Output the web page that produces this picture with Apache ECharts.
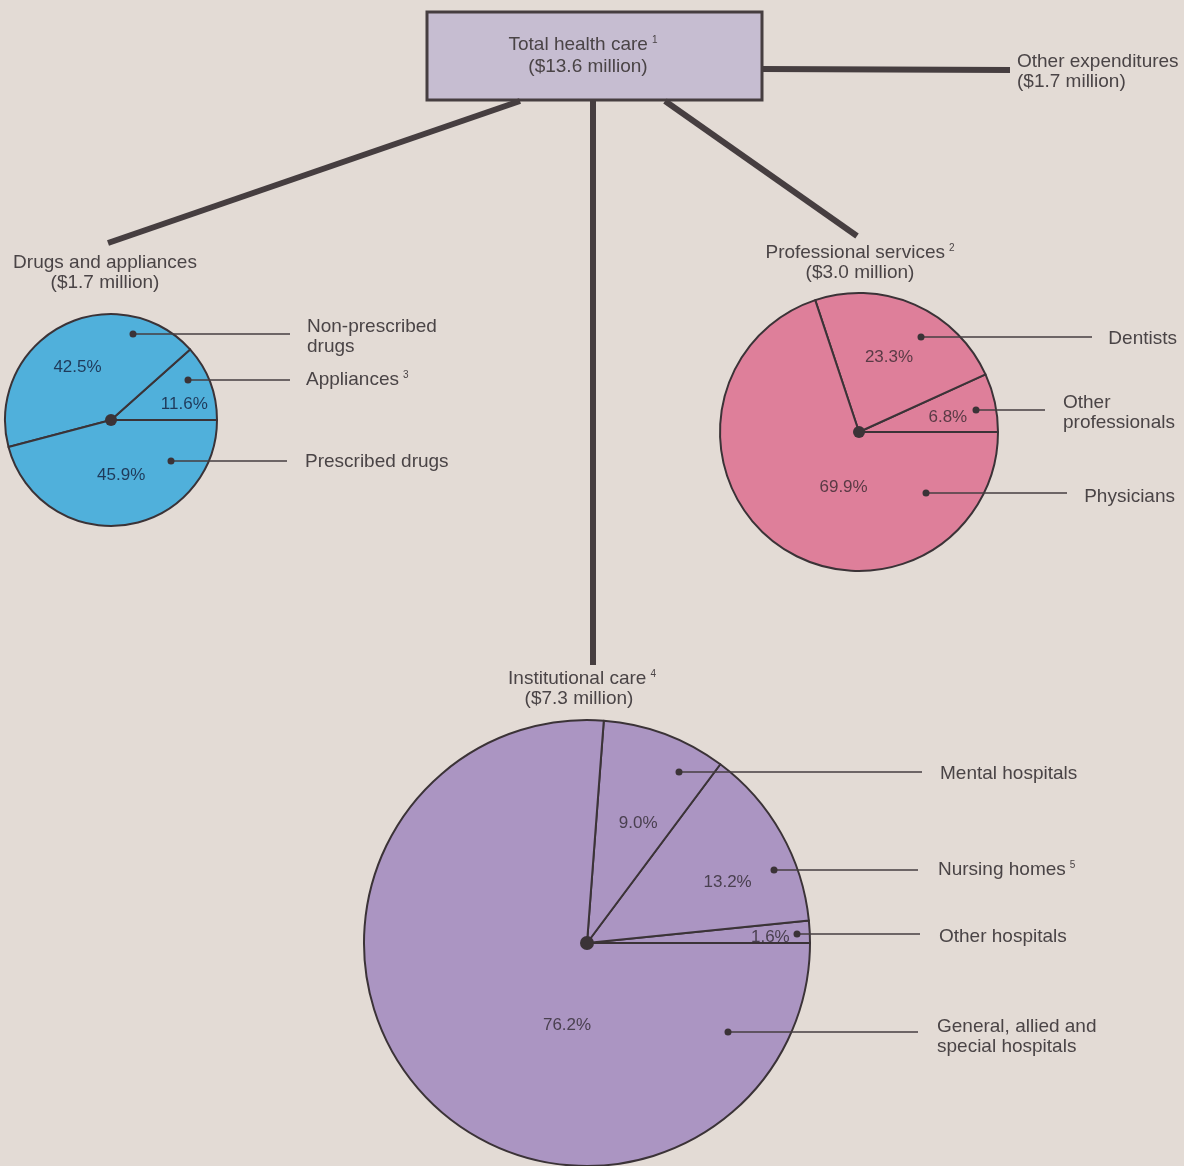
<!DOCTYPE html>
<html>
<head>
<meta charset="utf-8">
<script src="https://cdn.jsdelivr.net/npm/echarts@6/dist/echarts.min.js"></script>
<style>
  html, body { margin: 0; padding: 0; background: #e3dbd5; }
  #chart { width: 1184px; height: 1166px; }
</style>
</head>
<body>
<div id="chart"></div>
<script>
// spending groups (millions of dollars)
const groupNames = ["Total health care", "Other expenditures", "Drugs and appliances", "Professional services", "Institutional care"];
const groupTotals = [13.6, 1.7, 1.7, 3.0, 7.3];

// shares within each group, counter-clockwise from 3 o'clock
const drugNames = ["Appliances", "Non-prescribed drugs", "Prescribed drugs"];
const drugShares = [11.6, 42.5, 45.9];

const proNames = ["Other professionals", "Dentists", "Physicians"];
const proShares = [6.8, 23.3, 69.9];

const instNames = ["Other hospitals", "Nursing homes", "Mental hospitals", "General, allied and special hospitals"];
const instShares = [1.6, 13.2, 9.0, 76.2];

const FONT = "'Liberation Sans', Arial, sans-serif";
const INK = "#4a4446";
const EDGE = "#3b3337";

const chart = echarts.init(document.getElementById("chart"));

function pie(names, shares, center, radius, color, textColor, nudges) {
  return {
    type: "pie",
    center: center,
    radius: radius,
    startAngle: 0,
    clockwise: false,
    silent: true,
    z: 2,
    itemStyle: { color: color, borderColor: EDGE, borderWidth: 2 },
    label: {
      show: true,
      position: "inside",
      formatter: (p) => p.value.toFixed(1) + "%",
      color: textColor,
      fontSize: 17,
      fontFamily: FONT,
    },
    labelLine: { show: false },
    labelLayout: (p) => ({ dx: nudges[p.dataIndex][0], dy: nudges[p.dataIndex][1] }),
    emphasis: { disabled: true },
    data: names.map((n, i) => ({ name: n, value: shares[i] })),
  };
}

function money(v) {
  return "($" + v.toFixed(1) + " million)";
}

function text(x, y, str, align, extra) {
  return {
    type: "text",
    x: x,
    y: y,
    silent: true,
    style: Object.assign(
      {
        text: str,
        fill: INK,
        fontSize: 19,
        fontFamily: FONT,
        align: align || "left",
        verticalAlign: "middle",
        rich: { s: { fontSize: 10, fill: INK, fontFamily: FONT, padding: [0, 0, 10, 4] } },
      },
      extra || {}
    ),
  };
}

function bar(x1, y1, x2, y2, w) {
  return {
    type: "line",
    silent: true,
    z: 10,
    shape: { x1: x1, y1: y1, x2: x2, y2: y2 },
    style: { stroke: "#463e40", lineWidth: w || 6 },
  };
}

function dot(x, y, r) {
  return { type: "circle", silent: true, shape: { cx: x, cy: y, r: r }, style: { fill: EDGE }, z: 11 };
}

// [dotX, dotY, lineEndX]
function callout(c) {
  return [bar(c[0], c[1], c[2], c[1], 1.4), dot(c[0], c[1], 3.5)];
}

const graphic = [
  {
    type: "rect",
    silent: true,
    shape: { x: 427, y: 12, width: 335, height: 88 },
    style: { fill: "#c6bdd1", stroke: "#463e40", lineWidth: 3 },
  },
  bar(762, 69, 1010, 70),
  bar(520, 101, 108, 243),
  bar(593, 100, 593, 665),
  bar(665, 101, 857, 236),

  text(583, 45, groupNames[0] + "{s|1}", "center"),
  text(588, 67, money(groupTotals[0]), "center"),
  text(1017, 62, groupNames[1]),
  text(1017, 82, money(groupTotals[1])),
  text(105, 263, groupNames[2], "center"),
  text(105, 283, money(groupTotals[2]), "center"),
  text(860, 253, groupNames[3] + "{s|2}", "center"),
  text(860, 273, money(groupTotals[3]), "center"),
  text(582, 679, groupNames[4] + "{s|4}", "center"),
  text(579, 699, money(groupTotals[4]), "center"),

  // drugs callouts
  ...callout([133, 334, 290]),
  ...callout([188, 380, 290]),
  ...callout([171, 461, 287]),
  text(307, 327, "Non-prescribed"),
  text(307, 347, "drugs"),
  text(306, 380, "Appliances{s|3}"),
  text(305, 462, "Prescribed drugs"),

  // professional callouts
  ...callout([921, 337, 1092]),
  ...callout([976, 410, 1045]),
  ...callout([926, 493, 1067]),
  text(1177, 339, "Dentists", "right"),
  text(1063, 403, "Other"),
  text(1063, 423, "professionals"),
  text(1175, 497, "Physicians", "right"),

  // institutional callouts
  ...callout([679, 772, 922]),
  ...callout([774, 870, 918]),
  ...callout([797, 934, 920]),
  ...callout([728, 1032, 918]),
  text(940, 774, "Mental hospitals"),
  text(938, 870, "Nursing homes{s|5}"),
  text(939, 937, "Other hospitals"),
  text(937, 1027, "General, allied and"),
  text(937, 1047, "special hospitals"),

  // pie hubs
  dot(111, 420, 6),
  dot(859, 432, 6),
  dot(587, 943, 7),
];

chart.setOption({
  backgroundColor: "#e3dbd5",
  animation: false,
  series: [
    pie(drugNames, drugShares, [111, 420], 106, "#50b0db", "#1f3a5a", [[21, 4], [-7, -3], [3, 0]]),
    pie(proNames, proShares, [859, 432], 139, "#de7f9a", "#5a3a45", [[18, 1], [1, -8], [27, -3]]),
    pie(instNames, instShares, [587, 943], 223, "#ab95c2", "#4a4050", [[69, 0], [41, -4], [11, -12], [64, 4]]),
  ],
  graphic: graphic,
});

window.addEventListener("resize", () => chart.resize());
</script>
</body>
</html>
